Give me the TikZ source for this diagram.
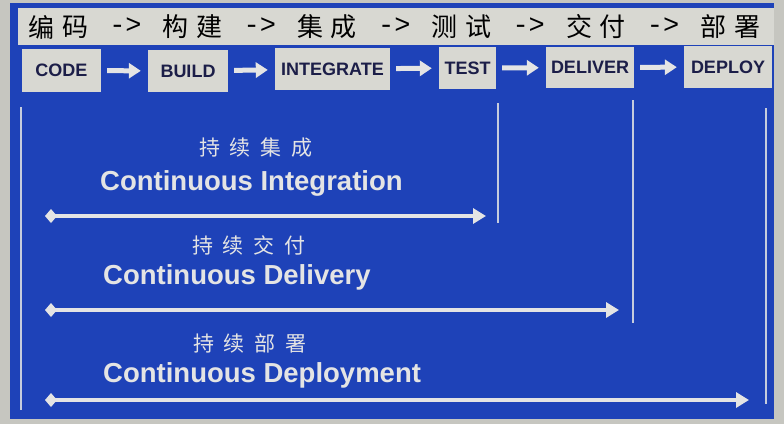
\documentclass[tikz,border=0pt]{standalone}
\usepackage{fontspec}
\setmainfont{Liberation Sans}
\newfontfamily\cjk{Noto Sans CJK SC}
\newfontfamily\monofam{Liberation Mono}
\usetikzlibrary{arrows.meta}
\definecolor{panelblue}{RGB}{30,66,184}
\definecolor{outergray}{RGB}{198,198,192}
\definecolor{stripgray}{RGB}{216,216,210}
\definecolor{navy}{RGB}{28,30,72}
\definecolor{chalk}{RGB}{228,228,228}
\begin{document}
\begin{tikzpicture}[x=1pt,y=-1pt,
  stagebox/.style={fill=stripgray, draw=none, inner sep=0pt, font=\fontsize{18}{18}\selectfont\bfseries, text=navy},
  flowarrow/.style={draw=chalk, line width=5pt, -{Triangle[length=12pt,width=15pt]}, shorten <=6pt, shorten >=7pt},
  spanarrow/.style={draw=chalk, line width=3.5pt, {Diamond[length=12pt,width=14pt]}-{Triangle[length=13pt,width=15pt]}},
  guide/.style={draw=chalk!85!panelblue, line width=1.3pt},
  titlechar/.style={font=\cjk\fontsize{26}{26}\selectfont, text=black, inner sep=0pt},
  titlearrow/.style={font=\monofam\fontsize{27}{27}\selectfont, text=black, inner sep=0pt},
  cnlabel/.style={font=\cjk\fontsize{21}{21}\selectfont, text=chalk, inner sep=0pt},
  enlabel/.style={font=\fontsize{27.5}{30}\selectfont\bfseries, text=chalk, inner sep=0pt, anchor=base west}
]
\useasboundingbox (0,0) rectangle (784,424);
\fill[outergray] (0,0) rectangle (784,424);
\fill[panelblue] (10,3) rectangle (774,419);
\fill[stripgray] (18,8) rectangle (774,45);

% title line
\foreach \k/\a/\b in {0/编/码,1/构/建,2/集/成,3/测/试,4/交/付,5/部/署}{
  \node[titlechar] (ta\k) at ({24.7+16.8*(8*\k+1)},27) {\a};
  \node[titlechar] (tb\k) at ({24.7+16.8*(8*\k+3)},27) {\b};
}
\foreach \k in {0,...,4}{
  \node[titlearrow] (tr\k) at ({24.7+16.8*(8*\k+6)},26) {->};
}

% stage boxes
\node[stagebox, minimum width=79pt, minimum height=43pt] (code) at (61.5,70.5) {CODE};
\node[stagebox, minimum width=80pt, minimum height=42pt] (build) at (188,71) {BUILD};
\node[stagebox, minimum width=115pt, minimum height=42pt] (integrate) at (332.5,69) {INTEGRATE};
\node[stagebox, minimum width=57pt, minimum height=42pt] (test) at (467.5,68) {TEST};
\node[stagebox, minimum width=88pt, minimum height=41pt] (deliver) at (590,67.5) {DELIVER};
\node[stagebox, minimum width=88pt, minimum height=42pt] (deploy) at (728,67) {DEPLOY};

\draw[flowarrow] (code) -- (build);
\draw[flowarrow] (build) -- (integrate);
\draw[flowarrow] (integrate) -- (test);
\draw[flowarrow] (test) -- (deliver);
\draw[flowarrow] (deliver) -- (deploy);

% guide lines
\coordinate (g1t) at (21,107); \coordinate (g1b) at (21,410);
\coordinate (g2t) at (498,103); \coordinate (g2b) at (498,223);
\coordinate (g3t) at (633,100); \coordinate (g3b) at (633,323);
\coordinate (g4t) at (766,108); \coordinate (g4b) at (766,404);
\draw[guide] (g1t) -- (g1b);
\draw[guide] (g2t) -- (g2b);
\draw[guide] (g3t) -- (g3b);
\draw[guide] (g4t) -- (g4b);

% labels
\node[cnlabel] (cici) at (256,148) {持\hspace{10pt}续\hspace{10pt}集\hspace{10pt}成};
\node[enlabel] (ci) at (100,190) {Continuous Integration};
\node[cnlabel] (cicd) at (249,245) {持\hspace{10pt}续\hspace{10pt}交\hspace{10pt}付};
\node[enlabel] (cd) at (103,284) {Continuous Delivery};
\node[cnlabel] (cicp) at (250,343) {持\hspace{10pt}续\hspace{10pt}部\hspace{10pt}署};
\node[enlabel] (cp) at (103,382) {Continuous Deployment};

% span arrows
\coordinate (a1s) at (45,216); \coordinate (a1e) at (486,216);
\coordinate (a2s) at (45,310); \coordinate (a2e) at (619,310);
\coordinate (a3s) at (45,400); \coordinate (a3e) at (749,400);
\draw[spanarrow] (a1s) -- (a1e);
\draw[spanarrow] (a2s) -- (a2e);
\draw[spanarrow] (a3s) -- (a3e);
\end{tikzpicture}
\end{document}
